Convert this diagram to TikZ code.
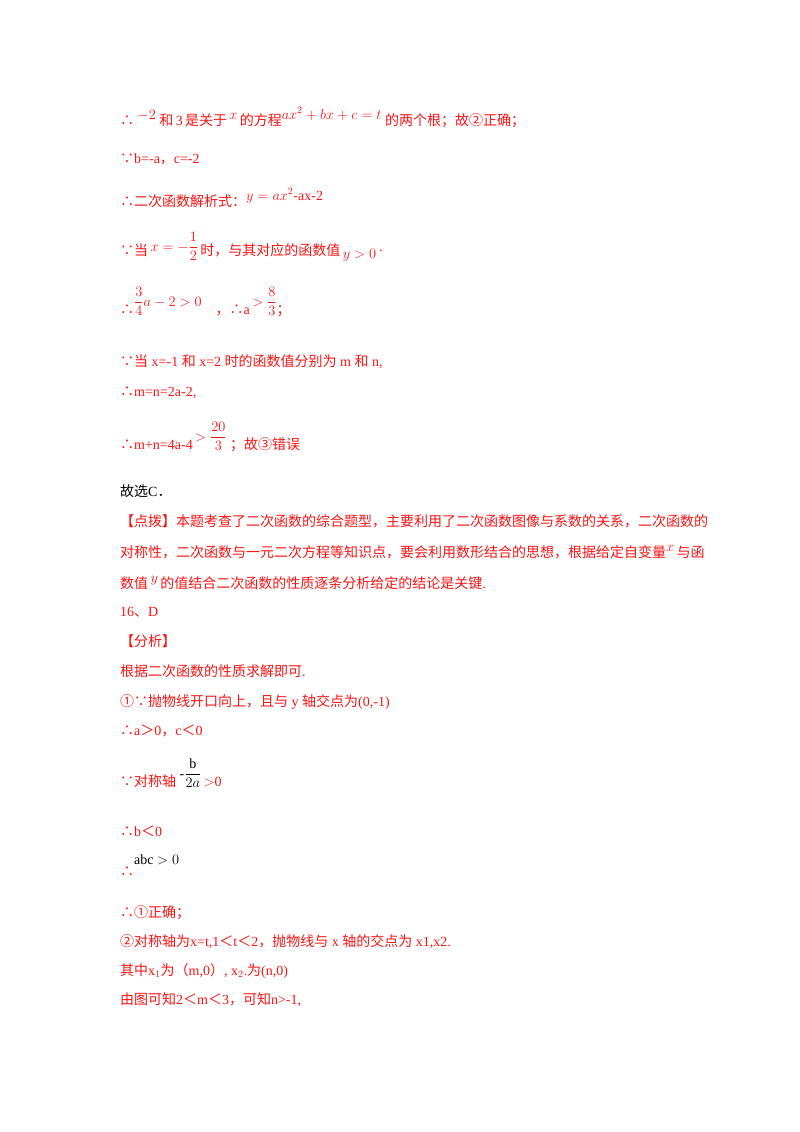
\documentclass[tikz,border=0pt]{standalone}
\usepackage{amsmath}
\usepackage{fontspec}
\setmainfont{Liberation Serif}
\newfontfamily\zh{Noto Sans CJK SC}
\newcommand{\Z}[1]{{\zh #1}}
\newcommand{\up}[2]{\raisebox{#1}{#2}}
\definecolor{rd}{RGB}{250,20,20}
\begin{document}
\begin{tikzpicture}[x=1pt,y=-1pt,
  ln/.style={anchor=base west,inner sep=0pt,font=\fontsize{14}{16}\selectfont,text=rd},
  bk/.style={ln,text=black}]
\useasboundingbox[fill=white] (0,0) rectangle (800,1132);
\node[ln] (l1) at (120,125) {\Z{∴}\ \up{6pt}{$-2$}\ \Z{和}\,3\,\Z{是关于}\,\up{6pt}{$x$}\,\Z{的方程}\up{6pt}{$ax^2+bx+c=t$}\ \Z{的两个根；故②正确；}};
\node[ln] (l2) at (120,163) {\Z{∵}b=-a\Z{，}c=-2};
\node[ln] (l3) at (120,206) {\Z{∴二次函数解析式：}\up{6pt}{$y=ax^2$-ax-2}};
\node[ln] (l4) at (120,255) {\Z{∵当}\,\up{4pt}{$x=-\dfrac{1}{2}$}\,\Z{时，与其对应的函数值}\,\up{-3pt}{$y>0$}\,·};
\node[ln] (l5) at (120,314) {\Z{∴}\up{8pt}{$\dfrac{3}{4}a-2>0$}\quad\Z{，∴}a\,\up{8pt}{$>\dfrac{8}{3}$}\Z{；}};
\node[ln] (l6) at (120,366) {\Z{∵当} x=-1 \Z{和} x=2 \Z{时的函数值分别为} m \Z{和} n,};
\node[ln] (l7) at (120,396) {\Z{∴}m=n=2a-2,};
\node[ln] (l8) at (120,449) {\Z{∴}m+n=4a-4\,\up{8pt}{$>\dfrac{20}{3}$}\ \Z{；故③错误}};
\node[bk] (l9) at (120,496) {\Z{故选}C\Z{．}};
\node[ln] (l10) at (120,526) {\Z{【点拨】本题考查了二次函数的综合题型，主要利用了二次函数图像与系数的关系，二次函数的}};
\node[ln] (l11) at (120,557) {\Z{对称性，二次函数与一元二次方程等知识点，要会利用数形结合的思想，根据给定自变量}\up{6pt}{$x$}\,\Z{与函}};
\node[ln] (l12) at (120,588) {\Z{数值}\,\up{6pt}{$y$}\,\Z{的值结合二次函数的性质逐条分析给定的结论是关键}.};
\node[ln] (l13) at (120,616) {16\Z{、}D};
\node[ln] (l14) at (120,646) {\Z{【分析】}};
\node[ln] (l15) at (120,676) {\Z{根据二次函数的性质求解即可}.};
\node[ln] (l16) at (120,706) {\Z{①∵抛物线开口向上，且与} y \Z{轴交点为}(0,-1)};
\node[ln] (l17) at (120,735) {\Z{∴}a\Z{＞}0\Z{，}c\Z{＜}0};
\node[ln] (l18) at (120,786) {\Z{∵对称轴} \textcolor{black}{\up{8pt}{-$\dfrac{\mathrm{b}}{2a}$}}\,$>$0};
\node[ln] (l19) at (120,836) {\Z{∴}b\Z{＜}0};
\node[ln] (l20) at (120,876) {\Z{∴}};
\node[bk] (l20b) at (134,864) {abc $>0$};
\node[ln] (l21) at (120,917) {\Z{∴①正确；}};
\node[ln] (l22) at (120,946) {\Z{②对称轴为}x=t,1\Z{＜}t\Z{＜}2\Z{，抛物线与} x \Z{轴的交点为} x1,x2.};
\node[ln] (l23) at (120,975) {\Z{其中}x$_1$\Z{为（}m,0\Z{）}, x$_2$.\Z{为}(n,0)};
\node[ln] (l24) at (120,1004) {\Z{由图可知}2\Z{＜}m\Z{＜}3\Z{，可知}n>-1,};
\end{tikzpicture}
\end{document}
